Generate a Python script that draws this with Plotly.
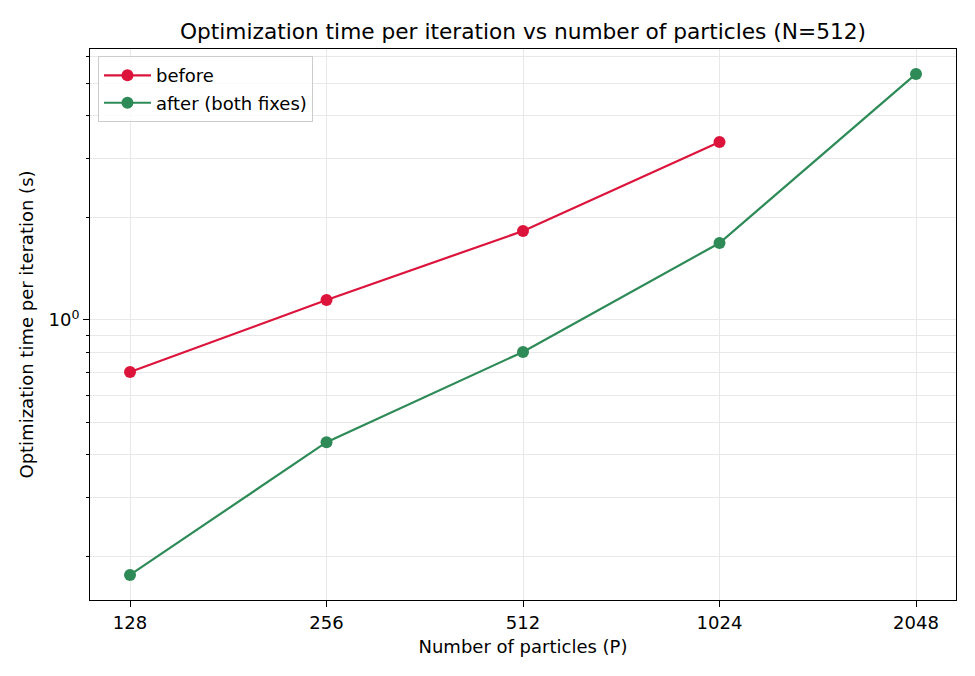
import plotly.graph_objects as go

particles_before = [128, 256, 512, 1024]
time_before = [0.702, 1.146, 1.83, 3.35]
particles_after = [128, 256, 512, 1024, 2048]
time_after = [0.177, 0.436, 0.805, 1.687, 5.32]
x_ticks = [128, 256, 512, 1024, 2048]
x_tick_labels = ["128", "256", "512", "1024", "2048"]
y_minor = [0.2, 0.3, 0.4, 0.5, 0.6, 0.7, 0.8, 0.9, 2, 3, 4, 5, 6]

font = "DejaVu Sans, Verdana, sans-serif"

fig = go.Figure()
fig.add_trace(go.Scatter(x=particles_before, y=time_before, mode="lines+markers",
                         name="before", legendgroup="a",
                         line=dict(color="#dc143c", width=2.2),
                         marker=dict(size=12, color="#dc143c")))
fig.add_trace(go.Scatter(x=particles_after, y=time_after, mode="lines+markers",
                         name="after (both fixes)", legendgroup="b",
                         line=dict(color="#2e8b57", width=2.2),
                         marker=dict(size=12, color="#2e8b57")))

fig.update_layout(
    width=975, height=676,
    margin=dict(l=90, r=19, t=49, b=76),
    paper_bgcolor="white", plot_bgcolor="white",
    font=dict(family=font, size=18, color="black"),
    title=dict(text="Optimization time per iteration vs number of particles (N=512)",
               x=0.5, xanchor="center", xref="paper", y=1 - 31 / 676, yanchor="middle",
               yref="container", font=dict(size=21.7)),
    showlegend=True,
    legend=dict(x=0.0092, y=0.987, xanchor="left", yanchor="top",
                bgcolor="rgba(255,255,255,0.8)", bordercolor="#cccccc", borderwidth=1,
                font=dict(size=18), tracegroupgap=1, itemwidth=47),
)
fig.update_xaxes(type="log", range=[2.0459, 3.3726], tickvals=x_ticks, ticktext=x_tick_labels,
                 showgrid=True, gridcolor="#e8e8e8", gridwidth=1,
                 showline=True, linecolor="black", linewidth=1, mirror=True,
                 ticks="outside", ticklen=6, tickcolor="black", tickfont=dict(size=18),
                 title=dict(text="Number of particles (P)", standoff=8, font=dict(size=18)),
                 zeroline=False)
fig.update_yaxes(type="log", range=[-0.826, 0.7994], tickvals=[1], ticktext=["10<sup>0</sup>"],
                 showgrid=True, gridcolor="#e8e8e8", gridwidth=1,
                 showline=True, linecolor="black", linewidth=1, mirror=True,
                 ticks="outside", ticklen=6, tickcolor="black", tickfont=dict(size=18),
                 minor=dict(tickvals=y_minor, ticks="outside", ticklen=3.5, tickcolor="black",
                            showgrid=True, gridcolor="#e8e8e8", gridwidth=1),
                 title=dict(text="Optimization time per iteration (s)", standoff=10,
                            font=dict(size=18)),
                 zeroline=False)

fig.write_html("out.html")
